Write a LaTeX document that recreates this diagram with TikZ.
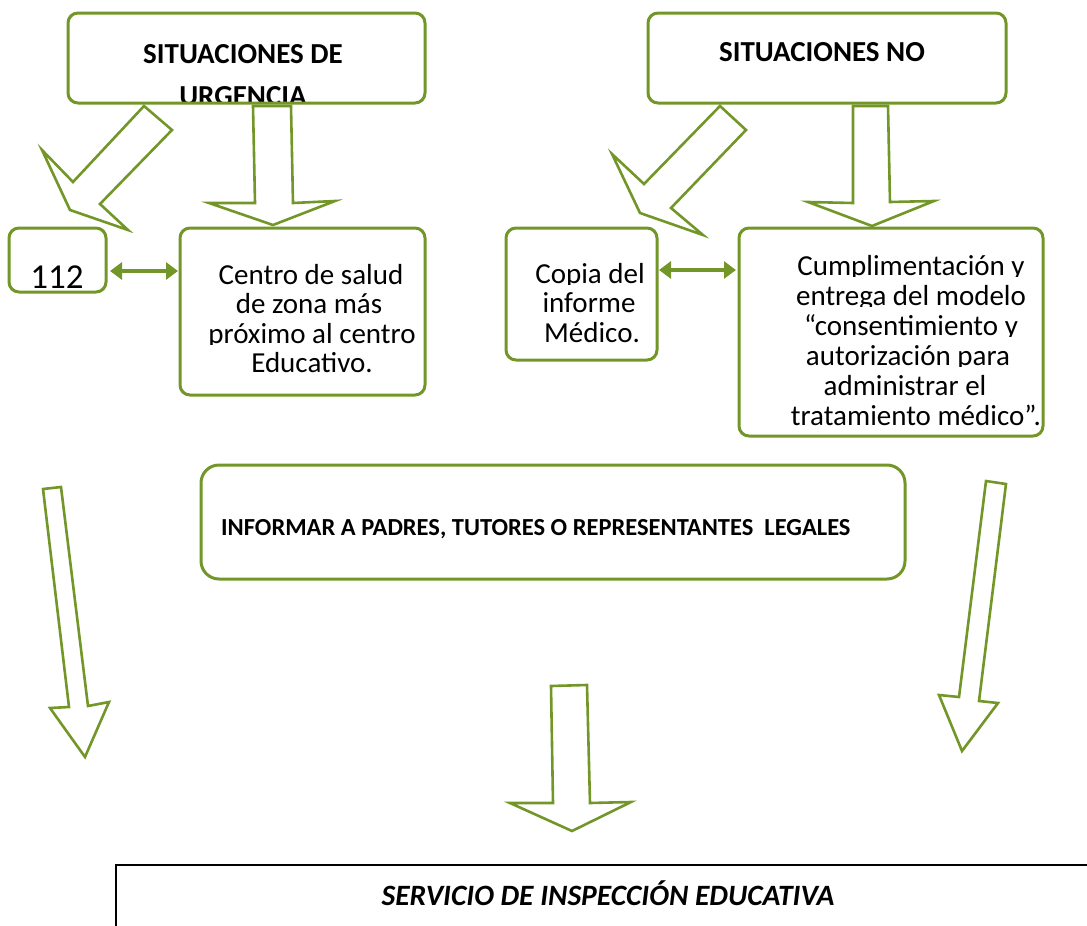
\documentclass[tikz,border=0pt]{standalone}
\usepackage{fontspec}
\setmainfont{Carlito}
\usetikzlibrary{arrows.meta}
\definecolor{grn}{RGB}{115,150,40}
\tikzset{
  box/.style={draw=grn, line width=3pt, rounded corners=10pt, inner sep=0pt, outer sep=0pt, anchor=north west},
  blk/.style={draw=grn, line width=2.6pt, line join=miter, fill=white},
  txt/.style={inner sep=0pt, outer sep=0pt, text=black, font=\fontsize{29}{29.5}\selectfont, anchor=base},
  head/.style={inner sep=0pt, outer sep=0pt, text=black, font=\bfseries\fontsize{29}{30}\selectfont, anchor=base},
  dbl/.style={draw=grn, line width=3.5pt, {Triangle[length=12pt,width=17pt]}-{Triangle[length=12pt,width=17pt]}}
}
\newcommand{\clippedline}[4]{%
  \begin{scope}
    \clip (#2-270,#3-40) rectangle (#2+270,#3+1.5);
    \node[txt] (#1) at (#2,#3) {#4};
  \end{scope}}
\begin{document}
\begin{tikzpicture}[x=1pt,y=-1pt]
\useasboundingbox (0,0) rectangle (1087,926);

% top headings
\node[head] (h1a) at (243,63) {SITUACIONES DE};
\begin{scope}
  \clip (100,70) rectangle (400,103);
  \node[head] (h1b) at (243,105) {URGENCIA};
\end{scope}
\node[box, minimum width=357pt, minimum height=90pt] (urg) at (68,13) {};

\node[head] (h2) at (822,61) {SITUACIONES NO};
\node[box, minimum width=358pt, minimum height=90pt] (nourg) at (648,13) {};

% block arrows from top boxes
\draw[blk] (144,106) -- (172,130) -- (100,204) -- (128,230) -- (70,210) -- (42,150) -- (73,182) -- cycle;
\draw[blk] (253,106) -- (291,106) -- (293,203) -- (335,201) -- (273,225) -- (209,203) -- (255,203) -- cycle;
\draw[blk] (720,106) -- (746,130) -- (671,208) -- (703,235) -- (640,213) -- (612,154) -- (644,184) -- cycle;
\draw[blk] (853,106) -- (888,106) -- (890,202) -- (934,201) -- (872,226) -- (808,202) -- (853,203) -- cycle;

% second row boxes
\node[box, minimum width=97pt, minimum height=64pt] (b112) at (9,228) {};
\node[txt, font=\fontsize{35}{36}\selectfont] (t112) at (57,288) {112};

\node[box, minimum width=245pt, minimum height=167pt] (centro) at (180,228) {};
\clippedline{c1}{311}{284}{Centro de salud}
\clippedline{c2}{309}{313.5}{de zona más}
\clippedline{c3}{312}{343}{próximo al centro}
\clippedline{c4}{312}{372.5}{Educativo.}

\node[box, minimum width=151pt, minimum height=132pt] (copia) at (506,228) {};
\clippedline{p1}{590}{283}{Copia del}
\clippedline{p2}{589}{312.5}{informe}
\clippedline{p3}{592}{342}{Médico.}

\node[box, minimum width=304pt, minimum height=208pt] (cump) at (739,228) {};
\clippedline{m1}{911}{275}{Cumplimentación y}
\clippedline{m2}{911}{305}{entrega del modelo}
\clippedline{m3}{911}{335}{“consentimiento y}
\clippedline{m4}{908}{365}{autorización para}
\clippedline{m5}{905}{395}{administrar el}
\clippedline{m6}{916}{425}{tratamiento médico”.}

% double arrows
\coordinate (r1) at (0,271);
\coordinate (r2) at (0,270);
\draw[dbl, shorten <=4pt, shorten >=2pt] (b112.east |- r1) -- (centro.west |- r1);
\draw[dbl, shorten <=2pt, shorten >=3pt] (copia.east |- r2) -- (cump.west |- r2);

% informar box
\node[box, rounded corners=18pt, minimum width=704pt, minimum height=114pt] (inf) at (201,465) {};
\node[inner sep=0pt, anchor=base west, font=\bfseries\fontsize{24.5}{26}\selectfont] (tinf) at (221,535) {INFORMAR A PADRES, TUTORES O REPRESENTANTES \ LEGALES};

% long block arrows
\draw[blk] (43,489) -- (61,487) -- (88,706) -- (109,702) -- (85,757) -- (50,708) -- (69,707) -- cycle;
\draw[blk] (986,481) -- (1006,484) -- (979,701) -- (998,703) -- (962,751) -- (939,695) -- (959,697) -- cycle;
\draw[blk] (551,686) -- (587,685) -- (590,803) -- (631,802) -- (572,831) -- (510,803) -- (553,803) -- cycle;

% bottom box
\draw[black, line width=2.5pt] (116,940) -- (116,865) -- (1100,865);
\node[inner sep=0pt, anchor=base, font=\bfseries\itshape\fontsize{29.5}{30}\selectfont] (serv) at (608,905) {SERVICIO DE INSPECCIÓN EDUCATIVA};
\end{tikzpicture}
\end{document}
